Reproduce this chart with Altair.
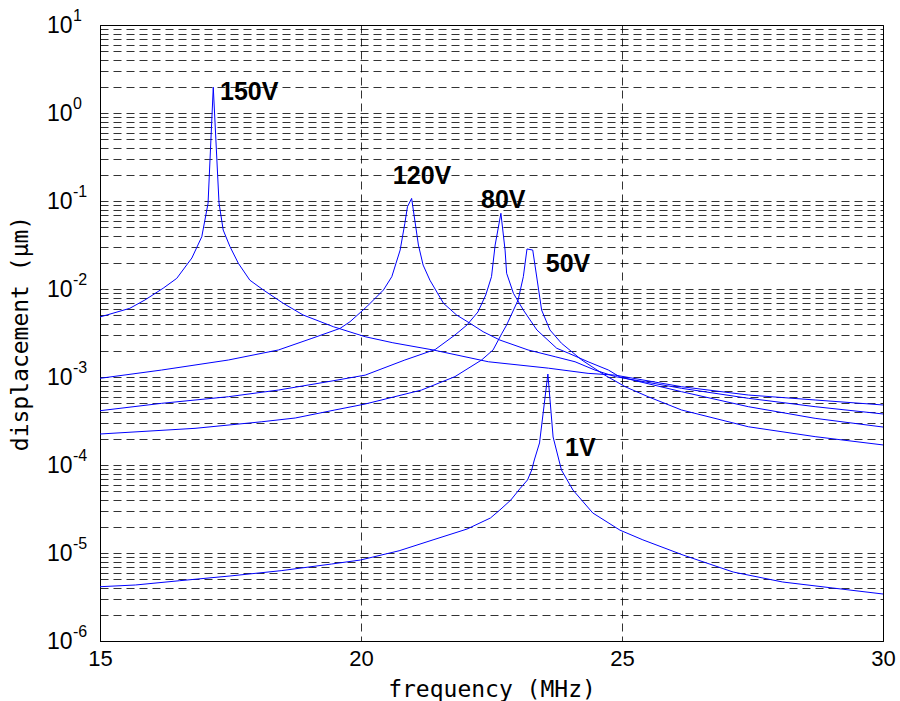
import altair as alt
import pandas as pd

# ---- data (frequency in MHz, displacement in µm) ----
f_150 = [15.00, 15.57, 15.86, 16.21, 16.47, 16.76, 16.95, 17.07, 17.17, 17.28, 17.36, 17.49,
         17.65, 17.87, 18.13, 18.51, 18.89, 19.47, 20.08, 20.61, 21.38, 22.44, 23.59, 24.35,
         24.87, 26.14, 27.42, 28.70, 30.00]
d_150 = [4.81e-3, 6.03e-3, 7.50e-3, 1.02e-2, 1.32e-2, 2.25e-2, 3.93e-2, 9.42e-2, 1.96, 9.49e-2,
         4.68e-2, 3.03e-2, 1.96e-2, 1.26e-2, 9.74e-3, 6.88e-3, 5.07e-3, 3.73e-3, 2.87e-3,
         2.45e-3, 2.03e-3, 1.49e-3, 1.26e-3, 1.10e-3, 1.05e-3, 7.76e-4, 6.24e-4, 5.48e-4, 4.81e-4]

f_120 = [15.00, 16.18, 17.46, 18.42, 19.06, 19.60, 19.79, 20.11, 20.43, 20.59, 20.75, 20.84,
         20.89, 20.97, 21.10, 21.19, 21.32, 21.58, 21.83, 22.09, 22.34, 22.66, 23.20, 23.72,
         24.10, 24.48, 24.87, 26.14, 27.42, 28.70, 30.00]
d_120 = [9.66e-4, 1.20e-3, 1.56e-3, 2.03e-3, 2.75e-3, 3.57e-3, 4.25e-3, 6.29e-3, 9.74e-3,
         1.38e-2, 2.77e-2, 5.58e-2, 8.61e-2, 0.107, 3.16e-2, 1.87e-2, 1.26e-2, 6.88e-3, 5.07e-3,
         4.07e-3, 3.27e-3, 2.63e-3, 2.03e-3, 1.70e-3, 1.49e-3, 1.20e-3, 1.01e-3, 7.44e-4,
         5.73e-4, 4.60e-4, 3.80e-4]

f_80 = [15.00, 16.18, 17.46, 18.42, 19.37, 20.08, 20.84, 21.42, 21.80, 22.03, 22.24, 22.39,
        22.50, 22.57, 22.68, 22.76, 22.79, 22.92, 23.11, 23.37, 23.75, 23.97, 24.35, 24.74,
        24.96, 26.14, 27.42, 28.70, 30.00]
d_80 = [4.14e-4, 5.02e-4, 5.97e-4, 7.11e-4, 8.85e-4, 1.05e-3, 1.56e-3, 2.05e-3, 3.00e-3,
        3.90e-3, 5.48e-3, 8.55e-3, 1.38e-2, 3.16e-2, 7.25e-2, 2.77e-2, 1.51e-2, 8.93e-3,
        5.77e-3, 3.42e-3, 2.12e-3, 1.87e-3, 1.49e-3, 1.20e-3, 1.00e-3, 6.81e-4, 4.60e-4,
        3.39e-4, 2.70e-4]

f_50 = [15.00, 16.82, 18.10, 18.74, 19.50, 20.08, 21.16, 21.80, 22.31, 22.53, 22.70, 22.79,
        23.01, 23.11, 23.18, 23.29, 23.46, 23.62, 23.84, 24.23, 24.67, 24.87, 25.06, 25.50,
        26.14, 27.42, 28.70, 30.00]
d_50 = [2.25e-4, 2.61e-4, 3.10e-4, 3.42e-4, 4.22e-4, 4.93e-4, 7.11e-4, 1.01e-3, 1.56e-3,
        2.03e-3, 3.14e-3, 3.90e-3, 7.50e-3, 1.38e-2, 2.85e-2, 2.77e-2, 5.77e-3, 3.42e-3,
        2.42e-3, 1.56e-3, 1.05e-3, 9.01e-4, 7.76e-4, 5.97e-4, 4.22e-4, 2.72e-4, 2.10e-4, 1.69e-4]

f_1 = [15.00, 15.68, 16.52, 17.49, 18.47, 19.44, 19.99, 20.73, 21.38, 22.03, 22.48, 22.66,
       22.87, 23.05, 23.19, 23.27, 23.32, 23.42, 23.58, 23.68, 23.84, 24.06, 24.44, 24.96,
       25.40, 26.17, 27.13, 28.08, 29.04, 30.00]
d_1 = [4.14e-6, 4.33e-6, 4.84e-6, 5.48e-6, 6.30e-6, 7.50e-6, 8.32e-6, 1.06e-5, 1.41e-5,
       1.87e-5, 2.50e-5, 3.08e-5, 4.00e-5, 5.43e-5, 6.76e-5, 8.77e-5, 1.14e-4, 1.78e-4,
       1.08e-3, 2.08e-4, 8.77e-5, 5.20e-5, 2.85e-5, 1.82e-5, 1.41e-5, 9.48e-6, 6.08e-6,
       4.68e-6, 4.00e-6, 3.42e-6]

label_text = ["150V", "120V", "80V", "50V", "1V"]
label_f = [17.30, 20.61, 22.30, 23.54, 23.91]
label_d = [1.73, 0.192, 0.1026, 0.0192, 1.56e-4]

x_ticks = [15, 20, 25, 30]
decades = [-6, -5, -4, -3, -2, -1, 0, 1]

# ---- tables ----
series = [("150V", f_150, d_150), ("120V", f_120, d_120), ("80V", f_80, d_80),
          ("50V", f_50, d_50), ("1V", f_1, d_1)]
rows = []
for name, fs, ds in series:
    for i, (f, d) in enumerate(zip(fs, ds)):
        rows.append({"series": name, "f": f, "d": d, "i": i})
df = pd.DataFrame(rows)

labels_df = pd.DataFrame({"text": label_text, "f": label_f, "d": label_d})
exp_df = pd.DataFrame({"d": [10.0 ** e for e in decades], "exp": [str(e) for e in decades]})

grid_vals = [m * 10.0 ** e for e in range(-6, 1) for m in range(1, 10)] + [10.0]

xscale = alt.Scale(domain=[15, 30], nice=False, zero=False)
yscale = alt.Scale(type="log", domain=[1e-6, 10], nice=False)

lines = alt.Chart(df).mark_line(color="#0000ff", strokeWidth=1, clip=True).encode(
    x=alt.X("f:Q", scale=xscale,
            axis=alt.Axis(values=x_ticks, grid=True, gridDash=[8, 5], gridColor="#000000",
                          gridOpacity=0.8, tickSize=0, labelFontSize=22, labelFont="Liberation Sans",
                          labelColor="#000000", labelPadding=7, labelFlush=False,
                          labelBaseline="top", domainColor="#000000",
                          title="frequency (MHz)", titleFont="DejaVu Sans Mono",
                          titleFontSize=23, titleFontWeight="normal", titleColor="#000000",
                          titleY=48, titleBaseline="middle")),
    y=alt.Y("d:Q", scale=yscale,
            axis=alt.Axis(values=grid_vals, grid=True, gridDash=[8, 5], gridColor="#000000",
                          gridOpacity=0.8, tickSize=0, labelFontSize=23, labelFont="Liberation Sans",
                          labelColor="#000000", labelPadding=28, labelBaseline="middle",
                          labelFlush=False,
                          labelExpr="abs(log(datum.value)/LN10 - round(log(datum.value)/LN10)) < 0.001 ? '10' : ''",
                          labelOverlap=False, domainColor="#000000",
                          title="displacement (µm)", titleFont="DejaVu Sans Mono",
                          titleFontSize=23, titleFontWeight="normal", titleColor="#000000",
                          titleX=-80, titleY=308, titleAlign="center", titleBaseline="middle")),
    detail="series:N",
    order="i:Q",
)

labels = alt.Chart(labels_df).mark_text(
    align="left", baseline="middle", fontSize=25, fontWeight="bold",
    font="Liberation Sans", color="#000000"
).encode(
    x=alt.X("f:Q", scale=xscale),
    y=alt.Y("d:Q", scale=yscale),
    text="text:N",
)

exps = alt.Chart(exp_df).mark_text(
    align="left", baseline="middle", fontSize=16, font="Liberation Sans",
    color="#000000", dy=-9
).encode(
    x=alt.value(-27),
    y=alt.Y("d:Q", scale=yscale),
    text="exp:N",
)

chart = alt.layer(lines, labels, exps).properties(
    width=783, height=616,
    autosize=alt.AutoSizeParams(type="none"),
    padding={"left": 100, "top": 25, "right": 17, "bottom": 60},
    background="white",
).configure_view(stroke="#000000", strokeWidth=1)

chart.save("out.html", embed_options={"renderer": "svg", "actions": False})
